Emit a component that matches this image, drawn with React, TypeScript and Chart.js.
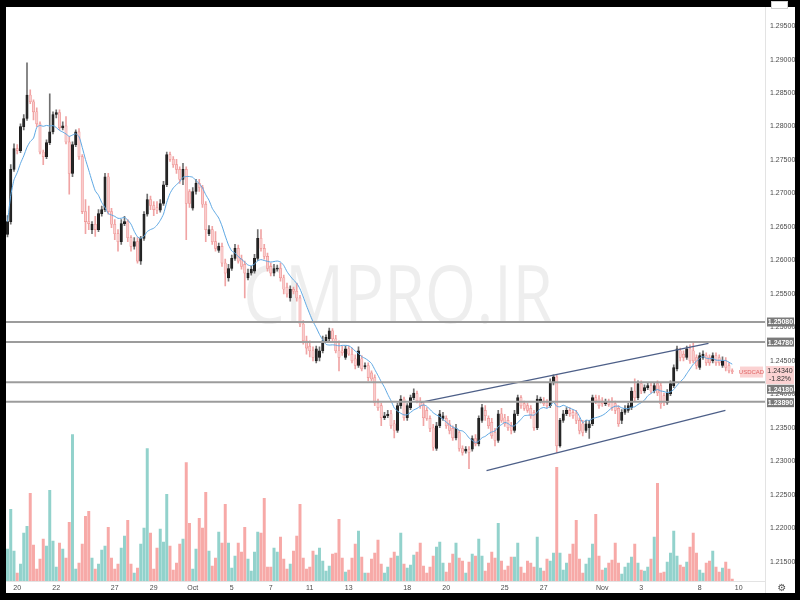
import React, { useEffect, useRef } from "react";
import { Chart, registerables } from "chart.js";
Chart.register(...registerables);

const symbol = "USDCAD";
const changePct = "-1.82%";
const watermark = "CMPRO.IR";

// 4H candles, USDCAD
const opens = [
  1.2639, 1.2658, 1.2736, 1.2767, 1.2764, 1.2800, 1.2812, 1.2847, 1.2837, 1.2822,
  1.2804, 1.2762, 1.2755, 1.2776, 1.2792, 1.2818, 1.2821, 1.2798, 1.2801, 1.2777,
  1.2730, 1.2773, 1.2792, 1.2755, 1.2673, 1.2658, 1.2646, 1.2654, 1.2646, 1.2670,
  1.2676, 1.2725, 1.2673, 1.2654, 1.2640, 1.2628, 1.2655, 1.2658, 1.2634, 1.2621,
  1.2628, 1.2599, 1.2633, 1.2669, 1.2691, 1.2682, 1.2679, 1.2675, 1.2685, 1.2713,
  1.2758, 1.2751, 1.2743, 1.2736, 1.2721, 1.2736, 1.2703, 1.2678, 1.2703, 1.2715,
  1.2709, 1.2684, 1.2640, 1.2646, 1.2628, 1.2615, 1.2621, 1.2596, 1.2574, 1.2588,
  1.2603, 1.2618, 1.2602, 1.2594, 1.2574, 1.2581, 1.2584, 1.2603, 1.2633, 1.2618,
  1.2606, 1.2591, 1.2581, 1.2587, 1.2588, 1.2574, 1.2560, 1.2544, 1.2557, 1.2554,
  1.2544, 1.2505, 1.2480, 1.2472, 1.2465, 1.2450, 1.2455, 1.2465, 1.2480, 1.2483,
  1.2495, 1.2483, 1.2465, 1.2465, 1.2455, 1.2468, 1.2460, 1.2453, 1.2443, 1.2453,
  1.2441, 1.2443, 1.2432, 1.2425, 1.2387, 1.2383, 1.2365, 1.2368, 1.2371, 1.2356,
  1.2346, 1.2383, 1.2393, 1.2365, 1.2380, 1.2395, 1.2401, 1.2390, 1.2383, 1.2376,
  1.2364, 1.2350, 1.2319, 1.2353, 1.2364, 1.2364, 1.2356, 1.2349, 1.2335, 1.2343,
  1.2319, 1.2315, 1.2318, 1.2318, 1.2334, 1.2326, 1.2361, 1.2376, 1.2364, 1.2358,
  1.2343, 1.2331, 1.2371, 1.2365, 1.2361, 1.2353, 1.2346, 1.2371, 1.2395, 1.2386,
  1.2383, 1.2379, 1.2373, 1.2350, 1.2390, 1.2390, 1.2387, 1.2383, 1.2417, 1.2426,
  1.2323, 1.2361, 1.2371, 1.2376, 1.2373, 1.2371, 1.2361, 1.2356, 1.2346, 1.2350,
  1.2356, 1.2395, 1.2393, 1.2390, 1.2386, 1.2389, 1.2390, 1.2386, 1.2379, 1.2361,
  1.2373, 1.2376, 1.2380, 1.2405, 1.2395, 1.2416, 1.2405, 1.2410, 1.2413, 1.2405,
  1.2416, 1.2413, 1.2398, 1.2387, 1.2401, 1.2413, 1.2438, 1.2465, 1.2460, 1.2455,
  1.2468, 1.2465, 1.2455, 1.2440, 1.2455, 1.2458, 1.2455, 1.2450, 1.2458, 1.2455,
  1.2443, 1.2450, 1.2443, 1.2435,
];
const highs = [
  1.2667, 1.2743, 1.2774, 1.2773, 1.2804, 1.2818, 1.2895, 1.2855, 1.2840, 1.2828,
  1.2807, 1.2765, 1.2780, 1.2849, 1.2822, 1.2825, 1.2825, 1.2807, 1.2815, 1.2785,
  1.2777, 1.2795, 1.2797, 1.2758, 1.2691, 1.2681, 1.2658, 1.2666, 1.2676, 1.2681,
  1.2730, 1.2730, 1.2678, 1.2661, 1.2646, 1.2661, 1.2666, 1.2661, 1.2637, 1.2634,
  1.2634, 1.2636, 1.2673, 1.2699, 1.2696, 1.2688, 1.2688, 1.2691, 1.2718, 1.2762,
  1.2762, 1.2755, 1.2751, 1.2740, 1.2745, 1.2740, 1.2706, 1.2709, 1.2721, 1.2721,
  1.2712, 1.2688, 1.2652, 1.2651, 1.2643, 1.2626, 1.2626, 1.2602, 1.2594, 1.2608,
  1.2624, 1.2623, 1.2608, 1.2599, 1.2587, 1.2591, 1.2609, 1.2646, 1.2646, 1.2624,
  1.2611, 1.2596, 1.2594, 1.2593, 1.2596, 1.2578, 1.2566, 1.2562, 1.2560, 1.2566,
  1.2548, 1.2510, 1.2487, 1.2480, 1.2471, 1.2472, 1.2471, 1.2487, 1.2489, 1.2499,
  1.2498, 1.2488, 1.2480, 1.2472, 1.2472, 1.2472, 1.2469, 1.2459, 1.2471, 1.2458,
  1.2447, 1.2447, 1.2435, 1.2429, 1.2393, 1.2387, 1.2373, 1.2376, 1.2376, 1.2361,
  1.2387, 1.2398, 1.2396, 1.2386, 1.2399, 1.2408, 1.2405, 1.2395, 1.2387, 1.2380,
  1.2368, 1.2355, 1.2358, 1.2376, 1.2373, 1.2368, 1.2361, 1.2353, 1.2355, 1.2346,
  1.2323, 1.2322, 1.2322, 1.2338, 1.2340, 1.2368, 1.2385, 1.2383, 1.2368, 1.2364,
  1.2349, 1.2376, 1.2379, 1.2370, 1.2367, 1.2358, 1.2376, 1.2399, 1.2398, 1.2390,
  1.2387, 1.2383, 1.2376, 1.2398, 1.2396, 1.2395, 1.2392, 1.2423, 1.2429, 1.2429,
  1.2364, 1.2376, 1.2380, 1.2380, 1.2377, 1.2376, 1.2365, 1.2361, 1.2361, 1.2361,
  1.2399, 1.2399, 1.2398, 1.2395, 1.2393, 1.2393, 1.2395, 1.2390, 1.2383, 1.2377,
  1.2383, 1.2387, 1.2410, 1.2423, 1.2420, 1.2420, 1.2414, 1.2417, 1.2417, 1.2417,
  1.2420, 1.2417, 1.2402, 1.2407, 1.2420, 1.2444, 1.2472, 1.2469, 1.2465, 1.2472,
  1.2474, 1.2477, 1.2459, 1.2462, 1.2465, 1.2462, 1.2459, 1.2462, 1.2462, 1.2459,
  1.2456, 1.2455, 1.2447, 1.2438,
];
const lows = [
  1.2635, 1.2654, 1.2733, 1.2759, 1.2761, 1.2795, 1.2809, 1.2834, 1.2810, 1.2800,
  1.2759, 1.2743, 1.2752, 1.2773, 1.2789, 1.2813, 1.2795, 1.2795, 1.2774, 1.2699,
  1.2725, 1.2770, 1.2751, 1.2670, 1.2640, 1.2646, 1.2640, 1.2636, 1.2643, 1.2666,
  1.2673, 1.2669, 1.2649, 1.2631, 1.2614, 1.2624, 1.2652, 1.2628, 1.2614, 1.2617,
  1.2596, 1.2594, 1.2630, 1.2666, 1.2676, 1.2667, 1.2670, 1.2672, 1.2682, 1.2710,
  1.2748, 1.2739, 1.2730, 1.2715, 1.2713, 1.2631, 1.2679, 1.2675, 1.2699, 1.2703,
  1.2679, 1.2628, 1.2637, 1.2624, 1.2614, 1.2612, 1.2591, 1.2562, 1.2569, 1.2585,
  1.2600, 1.2596, 1.2587, 1.2544, 1.2571, 1.2578, 1.2581, 1.2600, 1.2614, 1.2602,
  1.2584, 1.2577, 1.2577, 1.2584, 1.2569, 1.2550, 1.2545, 1.2539, 1.2550, 1.2539,
  1.2501, 1.2475, 1.2460, 1.2456, 1.2450, 1.2447, 1.2450, 1.2462, 1.2477, 1.2480,
  1.2480, 1.2462, 1.2435, 1.2458, 1.2452, 1.2458, 1.2447, 1.2438, 1.2440, 1.2435,
  1.2438, 1.2420, 1.2420, 1.2383, 1.2376, 1.2353, 1.2362, 1.2365, 1.2349, 1.2335,
  1.2343, 1.2379, 1.2361, 1.2361, 1.2377, 1.2392, 1.2387, 1.2379, 1.2353, 1.2361,
  1.2344, 1.2316, 1.2316, 1.2350, 1.2361, 1.2349, 1.2341, 1.2331, 1.2332, 1.2315,
  1.2309, 1.2312, 1.2289, 1.2315, 1.2323, 1.2323, 1.2358, 1.2361, 1.2349, 1.2334,
  1.2323, 1.2328, 1.2358, 1.2352, 1.2346, 1.2341, 1.2343, 1.2368, 1.2379, 1.2376,
  1.2373, 1.2364, 1.2346, 1.2347, 1.2387, 1.2383, 1.2380, 1.2380, 1.2414, 1.2313,
  1.2321, 1.2358, 1.2368, 1.2367, 1.2364, 1.2356, 1.2341, 1.2338, 1.2343, 1.2334,
  1.2353, 1.2386, 1.2379, 1.2382, 1.2383, 1.2382, 1.2376, 1.2371, 1.2352, 1.2356,
  1.2370, 1.2373, 1.2377, 1.2390, 1.2392, 1.2401, 1.2402, 1.2407, 1.2402, 1.2402,
  1.2398, 1.2379, 1.2383, 1.2385, 1.2398, 1.2410, 1.2435, 1.2450, 1.2450, 1.2452,
  1.2446, 1.2447, 1.2438, 1.2437, 1.2452, 1.2443, 1.2443, 1.2447, 1.2443, 1.2443,
  1.2440, 1.2435, 1.2432, 1.2431,
];
const closes = [
  1.2658, 1.2736, 1.2767, 1.2764, 1.2800, 1.2812, 1.2847, 1.2837, 1.2822, 1.2804,
  1.2762, 1.2755, 1.2776, 1.2792, 1.2818, 1.2821, 1.2798, 1.2801, 1.2777, 1.2730,
  1.2773, 1.2792, 1.2755, 1.2673, 1.2658, 1.2655, 1.2654, 1.2646, 1.2670, 1.2676,
  1.2725, 1.2673, 1.2654, 1.2640, 1.2628, 1.2655, 1.2658, 1.2634, 1.2621, 1.2628,
  1.2599, 1.2633, 1.2669, 1.2691, 1.2682, 1.2676, 1.2675, 1.2685, 1.2713, 1.2758,
  1.2751, 1.2743, 1.2736, 1.2721, 1.2736, 1.2685, 1.2685, 1.2703, 1.2715, 1.2709,
  1.2684, 1.2646, 1.2646, 1.2628, 1.2618, 1.2621, 1.2596, 1.2581, 1.2588, 1.2603,
  1.2618, 1.2599, 1.2591, 1.2581, 1.2581, 1.2587, 1.2603, 1.2633, 1.2618, 1.2606,
  1.2588, 1.2581, 1.2588, 1.2588, 1.2574, 1.2557, 1.2550, 1.2557, 1.2554, 1.2544,
  1.2505, 1.2480, 1.2469, 1.2465, 1.2455, 1.2468, 1.2465, 1.2480, 1.2485, 1.2495,
  1.2483, 1.2465, 1.2455, 1.2462, 1.2468, 1.2460, 1.2450, 1.2443, 1.2465, 1.2438,
  1.2443, 1.2425, 1.2423, 1.2387, 1.2380, 1.2365, 1.2368, 1.2370, 1.2353, 1.2346,
  1.2383, 1.2393, 1.2365, 1.2383, 1.2395, 1.2402, 1.2390, 1.2383, 1.2365, 1.2364,
  1.2349, 1.2321, 1.2353, 1.2371, 1.2368, 1.2353, 1.2346, 1.2335, 1.2349, 1.2319,
  1.2313, 1.2318, 1.2313, 1.2334, 1.2326, 1.2364, 1.2380, 1.2368, 1.2353, 1.2338,
  1.2331, 1.2371, 1.2361, 1.2356, 1.2350, 1.2346, 1.2371, 1.2395, 1.2383, 1.2379,
  1.2376, 1.2368, 1.2350, 1.2393, 1.2393, 1.2386, 1.2383, 1.2417, 1.2426, 1.2323,
  1.2361, 1.2371, 1.2376, 1.2371, 1.2368, 1.2361, 1.2346, 1.2343, 1.2356, 1.2356,
  1.2395, 1.2390, 1.2383, 1.2386, 1.2389, 1.2385, 1.2380, 1.2376, 1.2356, 1.2373,
  1.2379, 1.2383, 1.2405, 1.2395, 1.2416, 1.2405, 1.2410, 1.2413, 1.2405, 1.2413,
  1.2402, 1.2386, 1.2387, 1.2402, 1.2416, 1.2440, 1.2468, 1.2455, 1.2455, 1.2468,
  1.2450, 1.2450, 1.2443, 1.2458, 1.2460, 1.2447, 1.2447, 1.2458, 1.2447, 1.2447,
  1.2450, 1.2440, 1.2435, 1.2434,
];
const volumes = [
  32, 72, 30, 8, 17, 48, 55, 88, 36, 12,
  22, 42, 35, 91, 40, 14, 38, 32, 23, 59,
  147, 12, 18, 37, 65, 70, 23, 12, 17, 31,
  35, 54, 23, 12, 17, 33, 45, 61, 17, 8,
  13, 37, 53, 133, 48, 12, 33, 52, 39, 87,
  35, 11, 18, 37, 42, 119, 58, 12, 32, 63,
  53, 89, 30, 15, 23, 49, 38, 77, 38, 13,
  25, 38, 29, 54, 22, 10, 29, 49, 48, 83,
  14, 14, 33, 29, 44, 22, 12, 17, 30, 45,
  77, 23, 12, 14, 30, 26, 33, 20, 10, 15,
  27, 28, 62, 23, 9, 11, 23, 37, 50, 24,
  8, 8, 22, 28, 41, 17, 8, 14, 23, 29,
  25, 48, 17, 13, 16, 26, 29, 38, 15, 8,
  14, 25, 34, 39, 18, 9, 18, 27, 38, 23,
  20, 8, 19, 27, 25, 42, 25, 10, 18, 29,
  23, 58, 20, 11, 15, 24, 24, 38, 14, 8,
  20, 18, 14, 44, 13, 10, 22, 20, 28, 114,
  28, 11, 18, 27, 37, 61, 22, 8, 17, 23,
  37, 67, 25, 11, 13, 18, 21, 38, 18, 7,
  14, 18, 24, 37, 18, 11, 10, 14, 22, 44,
  98, 8, 9, 19, 28, 50, 25, 16, 14, 19,
  34, 48, 28, 11, 8, 18, 20, 30, 14, 9,
  13, 19, 12, 2,
];

const tickIndex = [3, 15, 33, 45, 57, 69, 81, 93, 105, 123, 135, 153, 165, 183, 195, 213, 225];
const tickLabels = ["20", "22", "27", "29", "Oct", "5", "7", "11", "13", "18", "20", "25", "27", "Nov", "3", "8", "10"];
const priceTicks = [1.215, 1.22, 1.225, 1.23, 1.235, 1.24, 1.245, 1.25, 1.255, 1.26, 1.265, 1.27, 1.275, 1.28, 1.285, 1.29, 1.295];

const levels = [1.2508, 1.2478, 1.2418, 1.2389];
const trendUpperX = [127.1, 215.7];
const trendUpperY = [1.2388, 1.2476];
const trendLowerX = [147.4, 220.9];
const trendLowerY = [1.2286, 1.2376];
const maPeriod = 9;

const FONT = '"Liberation Sans", Arial, sans-serif';

export default function App() {
  const ref = useRef<HTMLCanvasElement>(null);
  useEffect(() => {
    const canvas = ref.current;
    if (!canvas) return;
    const n = closes.length;
    const ma = closes.map((_, i) => {
      const s = Math.max(0, i - maPeriod + 1);
      let sum = 0;
      for (let k = s; k <= i; k++) sum += closes[k];
      return sum / (i - s + 1);
    });
    const isUp = (i: number) => closes[i] >= opens[i];
    const X_MIN = -0.4615;
    const X_MAX = 233.08;
    const levelShift = [0, 0, 7, 1];

    const decor = {
      id: "decor",
      beforeDraw(c: any) {
        const ctx = c.ctx;
        ctx.save();
        ctx.fillStyle = "#000";
        ctx.fillRect(0, 0, 800, 600);
        ctx.fillStyle = "#fff";
        ctx.fillRect(6, 7, 789, 586);
        ctx.restore();
      },
      beforeDatasetsDraw(c: any) {
        const ctx = c.ctx;
        const a = c.chartArea;
        ctx.save();
        ctx.beginPath();
        ctx.rect(a.left, a.top, a.right - a.left, a.bottom - a.top);
        ctx.clip();
        ctx.font = '80px "Open Sans", Roboto, sans-serif';
        const w = ctx.measureText(watermark).width;
        const sx = 310 / w;
        ctx.translate(243, 323);
        ctx.scale(sx, 1);
        ctx.fillStyle = "rgba(0,0,0,0.065)";
        ctx.textBaseline = "alphabetic";
        ctx.textAlign = "left";
        ctx.fillText(watermark, 0, 0);
        ctx.restore();
      },
      afterDraw(c: any) {
        const ctx = c.ctx;
        const a = c.chartArea;
        const ys = c.scales.y;
        ctx.save();
        // separators
        ctx.strokeStyle = "#e3e3e3";
        ctx.lineWidth = 1;
        ctx.beginPath();
        ctx.moveTo(a.right + 0.5, 7);
        ctx.lineTo(a.right + 0.5, 593);
        ctx.moveTo(6, a.bottom + 0.5);
        ctx.lineTo(a.right, a.bottom + 0.5);
        ctx.stroke();
        // level labels
        ctx.font = `bold 7px ${FONT}`;
        ctx.textAlign = "center";
        ctx.textBaseline = "middle";
        levels.forEach((lv, k) => {
          const py = ys.getPixelForValue(lv) + levelShift[k];
          ctx.fillStyle = "#7a7a7a";
          ctx.fillRect(a.right + 2, py - 4.5, 27, 9);
          ctx.fillStyle = "#fff";
          ctx.fillText(lv.toFixed(5), a.right + 15.5, py + 0.5);
        });
        // last price
        const last = closes[n - 1];
        const lp = ys.getPixelForValue(last);
        ctx.fillStyle = "#fbd2d2";
        ctx.fillRect(a.right + 1, lp - 5.5, 28, 18);
        ctx.fillStyle = "#333";
        ctx.font = `7px ${FONT}`;
        ctx.fillText(last.toFixed(5), a.right + 15, lp);
        ctx.fillText(changePct, a.right + 15, lp + 8);
        // symbol label
        ctx.fillStyle = "#fbd2d2";
        ctx.fillRect(a.right - 25, lp - 5, 23, 11);
        ctx.fillStyle = "#e06666";
        ctx.font = `6px ${FONT}`;
        ctx.fillText(symbol, a.right - 13.5, lp + 0.5);
        // gear icon
        ctx.fillStyle = "#555";
        ctx.font = '10px "DejaVu Sans"';
        ctx.fillText("\u2699", 782, 588);
        // top-right box
        ctx.fillStyle = "#fff";
        ctx.fillRect(771, 1, 17, 8);
        ctx.strokeStyle = "#cfcfcf";
        ctx.strokeRect(771.5, 1.5, 16, 7);
        ctx.restore();
      },
    };

    const lineDs = (xs: number[], ys: number[], color: string, width: number, order: number) => ({
      type: "line" as const,
      data: xs.map((x, k) => ({ x, y: ys[k] })),
      borderColor: color,
      borderWidth: width,
      pointRadius: 0,
      yAxisID: "y",
      order,
      tension: 0,
    });

    const chart = new Chart(canvas, {
      type: "bar",
      data: {
        datasets: [
          ...levels.map((lv) => lineDs([X_MIN, X_MAX], [lv, lv], "#9c9c9c", 2, 0)),
          lineDs(trendUpperX, trendUpperY, "#4d5f88", 1.2, 0),
          lineDs(trendLowerX, trendLowerY, "#4d5f88", 1.2, 0),
          {
            type: "line" as const,
            data: ma.map((v, i) => ({ x: i, y: v })),
            borderColor: "#5ea8e4",
            borderWidth: 1,
            pointRadius: 0,
            tension: 0.2,
            yAxisID: "y",
            order: 1,
          },
          {
            type: "bar" as const,
            data: opens.map((o, i) => ({ x: i, y: [o, closes[i]] })),
            backgroundColor: (ctx: any) => (isUp(ctx.dataIndex) ? "#262626" : "#f9cccc"),
            borderColor: (ctx: any) => (isUp(ctx.dataIndex) ? "#1c1c1c" : "#ee9090"),
            borderWidth: 0.6,
            borderSkipped: false,
            minBarLength: 1,
            grouped: false,
            barPercentage: 1,
            categoryPercentage: 1,
            maxBarThickness: 2.4,
            yAxisID: "y",
            order: 2,
          },
          {
            type: "bar" as const,
            data: lows.map((l, i) => ({ x: i, y: [l, highs[i]] })),
            backgroundColor: (ctx: any) => (isUp(ctx.dataIndex) ? "#707070" : "#f0a4a4"),
            borderWidth: 0,
            grouped: false,
            barPercentage: 1,
            categoryPercentage: 1,
            maxBarThickness: 1,
            yAxisID: "y",
            order: 3,
          },
          {
            type: "bar" as const,
            data: volumes.map((v, i) => ({ x: i, y: v })),
            backgroundColor: (ctx: any) => (isUp(ctx.dataIndex) ? "rgba(38,166,154,0.5)" : "rgba(239,83,80,0.5)"),
            borderWidth: 0,
            grouped: false,
            barPercentage: 1,
            categoryPercentage: 1,
            maxBarThickness: 2.3,
            yAxisID: "yv",
            order: 5,
          },
        ] as any,
      },
      options: {
        responsive: false,
        animation: false,
        events: [],
        layout: { padding: { left: 6, top: 7, right: 5, bottom: 7 } },
        plugins: { legend: { display: false }, tooltip: { enabled: false } },
        scales: {
          x: {
            type: "linear",
            position: "bottom",
            min: X_MIN,
            max: X_MAX,
            offset: false,
            grid: { display: false, drawTicks: false },
            border: { display: false },
            afterBuildTicks: (s: any) => {
              s.ticks = tickIndex.map((v) => ({ value: v }));
            },
            afterFit: (s: any) => {
              s.height = 12;
            },
            ticks: {
              autoSkip: false,
              maxRotation: 0,
              padding: 3,
              color: "#4a4a4a",
              font: { size: 7, family: FONT },
              callback: (v: any) => {
                const k = tickIndex.indexOf(Number(v));
                return k >= 0 ? tickLabels[k] : "";
              },
            },
          },
          y: {
            type: "linear",
            position: "right",
            min: 1.21211,
            max: 1.29753,
            grid: { display: false, drawTicks: false },
            border: { display: false },
            afterBuildTicks: (s: any) => {
              s.ticks = priceTicks.map((v) => ({ value: v }));
            },
            afterFit: (s: any) => {
              s.width = 30;
            },
            ticks: {
              crossAlign: "near",
              padding: 5,
              color: "#4a4a4a",
              font: { size: 7, family: FONT },
              callback: (v: any) => Number(v).toFixed(5),
            },
          },
          yv: {
            type: "linear",
            display: false,
            min: 0,
            max: 574,
          },
        },
      } as any,
      plugins: [decor],
    });
    return () => chart.destroy();
  }, []);
  return (
    <div style={{ position: "fixed", left: 0, top: 0, width: 800, height: 600 }}>
      <canvas ref={ref} width={800} height={600} style={{ display: "block", width: 800, height: 600 }} />
    </div>
  );
}
